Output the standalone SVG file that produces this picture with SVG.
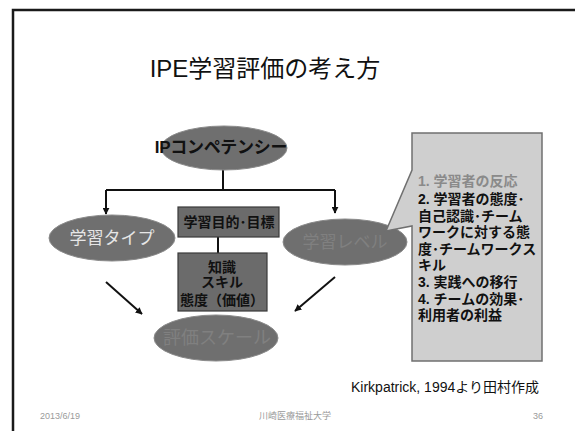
<svg xmlns="http://www.w3.org/2000/svg" width="575" height="431" viewBox="0 0 575 431">
<style>
.jp{font-family:"Liberation Sans","Noto Sans CJK JP",sans-serif}
.ell{fill:#6f6f6f;stroke:#8a8a8a;stroke-width:1}
.box{fill:#6b6b6b;stroke:#3a3a3a;stroke-width:1.2}
.ln{fill:none;stroke:#111;stroke-width:2}
.b{font-weight:bold}
.cl{font-size:14px;font-weight:bold;fill:#111}
.faint{fill:#808080}
</style>
<defs>
<marker id="ah" viewBox="0 0 10 10" refX="9" refY="5" markerWidth="7" markerHeight="7" markerUnits="userSpaceOnUse" orient="auto">
<path d="M0,0 L10,5 L0,10 Z" fill="#111"/>
</marker>
</defs>
<rect width="575" height="431" fill="#fff"/>
<path d="M13,431 V10 H575" fill="none" stroke="#1a1a1a" stroke-width="2.5"/>
<text x="265" y="77" text-anchor="middle" class="jp" font-size="24" fill="#111">IPE学習評価の考え方</text>

<g id="connectors">
<path class="ln" d="M223,169 V190"/>
<path class="ln" d="M106,190 H335"/>
<path class="ln" d="M106,190 V214" marker-end="url(#ah)"/>
<path class="ln" d="M335,190 V213" marker-end="url(#ah)"/>
<path class="ln" d="M218,237 V253"/>
<path class="ln" d="M106,282 L142,314" marker-end="url(#ah)"/>
<path class="ln" d="M335,277 L295,311" marker-end="url(#ah)"/>
</g>

<g id="ip-competency">
<ellipse class="ell" cx="224" cy="148" rx="63" ry="22"/>
<text x="221" y="153" text-anchor="middle" class="jp b" font-size="17" fill="#111" letter-spacing="-0.3">IPコンペテンシー</text>
</g>

<g id="learning-type">
<ellipse class="ell" cx="112" cy="238" rx="63" ry="23"/>
<text x="112" y="244" text-anchor="middle" class="jp" font-size="17" fill="#e6e6e6">学習タイプ</text>
</g>

<g id="learning-goal">
<rect class="box" x="178" y="207" width="101" height="30"/>
<text x="229" y="227" text-anchor="middle" class="jp b" font-size="14" fill="#111">学習目的･目標</text>
</g>

<g id="knowledge">
<rect class="box" x="178" y="253" width="89" height="58"/>
<text x="222" y="272" text-anchor="middle" class="jp b" font-size="14" fill="#111">知識</text>
<text x="222" y="287" text-anchor="middle" class="jp b" font-size="14" fill="#111">スキル</text>
<text x="222" y="305" text-anchor="middle" class="jp b" font-size="14" fill="#111">態度（価値）</text>
</g>

<g id="learning-level">
<ellipse class="ell" cx="345" cy="242" rx="62" ry="23"/>
<text x="345" y="248" text-anchor="middle" class="jp faint" font-size="17">学習レベル</text>
</g>

<g id="eval-scale">
<ellipse class="ell" cx="216" cy="338" rx="62" ry="23"/>
<text x="217" y="344" text-anchor="middle" class="jp faint" font-size="18">評価スケール</text>
</g>

<g id="callout">
<path d="M412,133 H542 V361 H412 V226 L386,231 L412,170 Z" fill="#cfcfcf" stroke="#707070" stroke-width="1.5"/>
<text x="418" y="186" class="jp cl" style="fill:#8a8a8a">1. 学習者の反応</text>
<text x="418" y="204" class="jp cl">2. 学習者の態度･</text>
<text x="418" y="221" class="jp cl">自己認識･チーム</text>
<text x="418" y="237" class="jp cl">ワークに対する態</text>
<text x="418" y="254" class="jp cl">度･チームワークス</text>
<text x="418" y="270" class="jp cl">キル</text>
<text x="418" y="287" class="jp cl">3. 実践への移行</text>
<text x="418" y="304" class="jp cl">4. チームの効果･</text>
<text x="418" y="320" class="jp cl">利用者の利益</text>
</g>

<text x="351" y="392" class="jp" font-size="14" fill="#111">Kirkpatrick, 1994より田村作成</text>
<text x="40" y="419" class="jp" font-size="9" fill="#9a9a9a">2013/6/19</text>
<text x="295" y="419" text-anchor="middle" class="jp" font-size="9" fill="#9a9a9a">川崎医療福祉大学</text>
<text x="543" y="419" text-anchor="end" class="jp" font-size="9" fill="#9a9a9a">36</text>
</svg>
